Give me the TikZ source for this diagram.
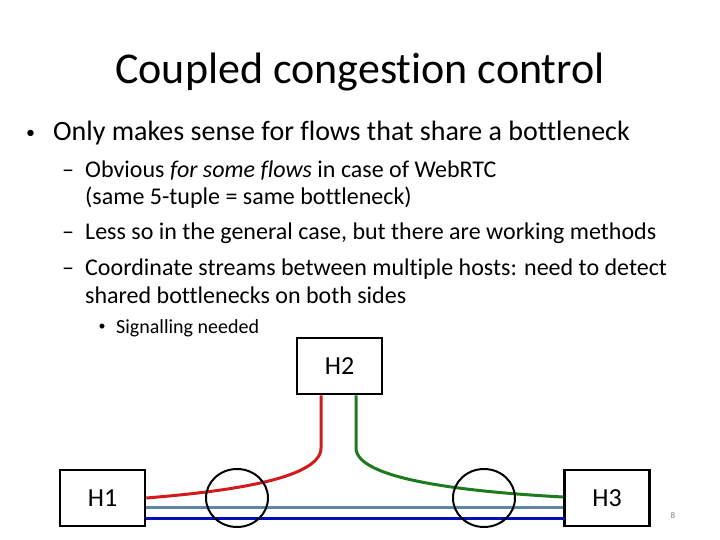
\documentclass[tikz,border=0pt]{standalone}
\usepackage{fontspec}
\setmainfont{Carlito}[Ligatures={NoCommon,NoContextual}]
\usetikzlibrary{shapes.geometric}
\definecolor{linkred}{RGB}{210,28,28}
\definecolor{linkgreen}{RGB}{30,122,30}
\definecolor{lightblue}{RGB}{96,132,170}
\definecolor{darkblue}{RGB}{0,16,190}
\begin{document}
\begin{tikzpicture}[x=1pt,y=-1pt,
  host/.style={draw=black,line width=2.6pt,minimum width=85pt,minimum height=56pt,inner sep=0pt,font=\fontsize{26}{30}\selectfont},
  bneck/.style={draw=black,line width=2pt,ellipse,minimum width=62pt,minimum height=58pt,inner sep=0pt},
  flow/.style={line width=3pt},
  dot/.style={anchor=center,inner sep=0pt},
  lvl1/.style={anchor=base west,inner sep=0pt,font=\fontsize{28}{34}\selectfont},
  lvl2/.style={anchor=base west,inner sep=0pt,font=\fontsize{24}{28}\selectfont},
  lvl3/.style={anchor=base west,inner sep=0pt,font=\fontsize{20}{24}\selectfont}]
\useasboundingbox (0,0) rectangle (720,540);
\node[anchor=base,inner sep=0pt,font=\fontsize{44}{52}\selectfont] (title) at (360,84) {Coupled congestion control};
\node[dot,font=\fontsize{18}{20}\selectfont] (b1) at (30.5,134) {•};
\node[lvl1] (t1) at (53,141) {Only makes sense for flows that share a bottleneck};
\node[lvl2] (d2) at (62,178) {–};
\node[lvl2] (t2) at (85,178) {Obvious \textit{for some flows} in case of WebRTC};
\node[lvl2] (t2b) at (85,205) {(same 5-tuple = same bottleneck)};
\node[lvl2] (d3) at (62,240) {–};
\node[lvl2] (t3) at (85,240) {Less so in the general case, but there are working methods};
\node[lvl2] (d4) at (62,275) {–};
\node[lvl2] (t4) at (85,275) {Coordinate streams between multiple hosts: need to detect};
\node[lvl2] (t4b) at (85,303) {shared bottlenecks on both sides};
\node[dot,font=\fontsize{14}{16}\selectfont] (b5) at (102,327) {•};
\node[lvl3] (t5) at (116,333) {Signalling needed};
\node[host] (H1) at (102.5,498) {H1};
\node[host] (H2) at (339.5,366) {H2};
\node[host] (H3) at (607,498) {H3};
\node[anchor=base,inner sep=0pt,font=\fontsize{9}{10}\selectfont,text=gray] (pg) at (673,518) {8};
\coordinate (r0) at ([xshift=-18.5pt]H2.south);
\coordinate (r1) at (321,448);
\coordinate (g0) at ([xshift=16.5pt]H2.south);
\coordinate (g1) at (356,448);
\coordinate (h3g) at ([yshift=1pt]H3.west);
\draw[flow,linkred] (r0) -- (r1) .. controls (321,480) and (220,492) .. (H1.east);
\draw[flow,linkgreen] (g0) -- (g1) .. controls (356,480) and (470,492) .. (h3g);
\draw[flow,lightblue] ([yshift=-9pt]H1.east) -- ([yshift=-9pt]H3.west);
\draw[flow,darkblue] ([yshift=-20pt]H1.east) -- ([yshift=-20pt,xshift=2pt]H3.west);
\node[bneck] (E1) at (237,498) {};
\node[bneck] (E2) at (484,498) {};
\end{tikzpicture}
\end{document}
